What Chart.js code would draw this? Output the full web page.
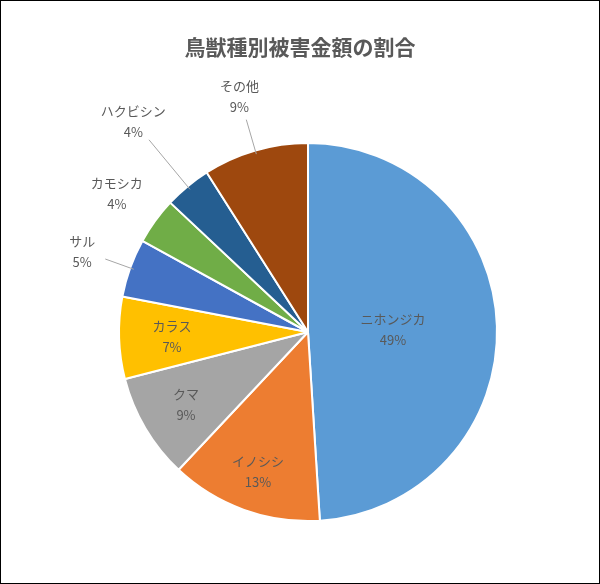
<!DOCTYPE html>
<html>
<head>
<meta charset="utf-8">
<script src="https://cdn.jsdelivr.net/npm/chart.js@4/dist/chart.umd.min.js"></script>
<style>
  html, body { margin: 0; padding: 0; background: #fff; }
  #wrap { width: 598px; height: 582px; border: 1px solid #000; position: relative; }
  canvas { display: block; }
</style>
</head>
<body>
<div id="wrap"><canvas id="pie" width="598" height="582"></canvas></div>
<script>
(function() {
  'use strict';

  var TITLE = '鳥獣種別被害金額の割合';
  var labels = ['ニホンジカ', 'イノシシ', 'クマ', 'カラス', 'サル', 'カモシカ', 'ハクビシン', 'その他'];
  var values = [49, 13, 9, 7, 5, 4, 4, 9];
  var colors = ['#5B9BD5', '#ED7D31', '#A5A5A5', '#FFC000', '#4472C4', '#70AD47', '#255E91', '#9E480E'];

  // label distance from centre as a fraction of radius, and whether a leader line is drawn
  var labelDist = [0.45, 0.78, 0.75, 0.72, 1.27, 1.25, 1.45, 1.3];
  var leader    = [false, false, false, false, true, false, true, true];

  var TEXT = '#595959';
  var FONT = "'Noto Sans CJK JP', 'Noto Sans', sans-serif";

  var labelPlugin = {
    id: 'pieLabels',
    afterDraw: function(chart) {
      var c = chart.ctx;
      var arcs = chart.getDatasetMeta(0).data;
      c.save();
      c.fillStyle = TEXT;
      c.font = 'bold 21px ' + FONT;
      c.textAlign = 'center';
      c.textBaseline = 'middle';
      c.fillText(TITLE, 299, 46);

      c.font = '13px ' + FONT;
      arcs.forEach(function(a, i) {
        var mid = (a.startAngle + a.endAngle) / 2;
        var r = a.outerRadius;
        var cx = Math.cos(mid), cy = Math.sin(mid);
        var lx = a.x + cx * r * labelDist[i];
        var ly = a.y + cy * r * labelDist[i];
        if (leader[i]) {
          c.strokeStyle = '#A6A6A6';
          c.lineWidth = 1;
          c.beginPath();
          c.moveTo(a.x + cx * r * 0.98, a.y + cy * r * 0.98);
          c.lineTo(a.x + cx * r * (labelDist[i] - 0.13), a.y + cy * r * (labelDist[i] - 0.13));
          c.stroke();
        }
        c.fillStyle = TEXT;
        c.fillText(labels[i], lx, ly - 10);
        c.fillText(values[i] + '%', lx, ly + 11);
      });
      c.restore();
    }
  };

  new Chart(document.getElementById('pie'), {
    type: 'pie',
    data: {
      labels: labels,
      datasets: [{
        data: values,
        backgroundColor: colors,
        borderColor: '#ffffff',
        borderWidth: 2
      }]
    },
    options: {
      responsive: false,
      animation: false,
      layout: { padding: { top: 141, bottom: 61, left: 117, right: 101 } },
      plugins: {
        legend: { display: false },
        tooltip: { enabled: false }
      }
    },
    plugins: [labelPlugin]
  });
})();
</script>
</body>
</html>
